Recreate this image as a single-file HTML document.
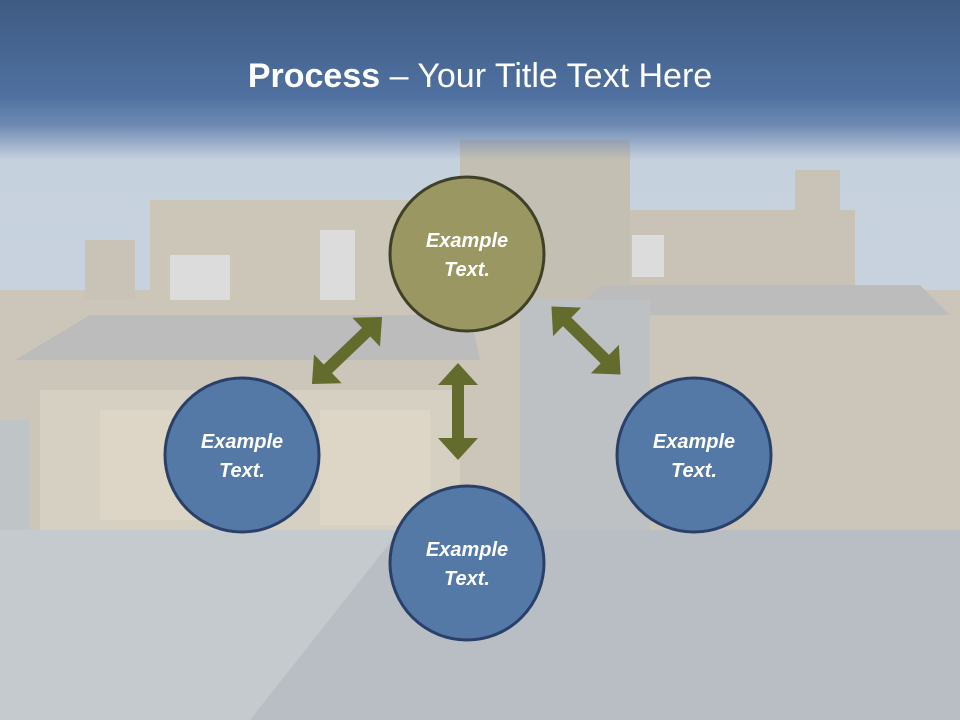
<!DOCTYPE html>
<html><head><meta charset="utf-8"><style>
body{margin:0;width:960px;height:720px;overflow:hidden;font-family:"Liberation Sans",sans-serif}
</style></head><body>
<svg width="960" height="720" xmlns="http://www.w3.org/2000/svg">
<defs>
<linearGradient id="hdr" x1="0" y1="0" x2="0" y2="1">
<stop offset="0" stop-color="#3e5b82"/><stop offset="0.6" stop-color="#4f70a0"/><stop offset="0.78" stop-color="#6d89b2"/><stop offset="1" stop-color="#6d89b2" stop-opacity="0"/>
</linearGradient>
<linearGradient id="sky" x1="0" y1="0" x2="0" y2="1">
<stop offset="0" stop-color="#c3cfdd"/><stop offset="1" stop-color="#d0d8e2"/>
</linearGradient>
<path id="dar" d="M-48.5,0L-26.5,-20L-26.5,-6L26.5,-6L26.5,-20L48.5,0L26.5,20L26.5,6L-26.5,6L-26.5,20Z" fill="#636b2d"/>
</defs>
<rect width="960" height="720" fill="url(#sky)"/>
<rect x="0" y="290" width="960" height="240" fill="#cbc6b9"/>
<rect x="150" y="200" width="470" height="110" fill="#cbc6b8"/>
<rect x="600" y="210" width="255" height="90" fill="#c8c3b6"/>
<rect x="460" y="140" width="170" height="170" fill="#c4bfb3"/>
<rect x="795" y="170" width="45" height="45" fill="#c8c3b6"/>
<rect x="85" y="240" width="50" height="60" fill="#c8c3b6"/>
<polygon points="15,360 90,315 470,315 480,360" fill="#bcbcbc"/>
<polygon points="570,315 600,285 920,285 950,315" fill="#bcbcbc"/>
<rect x="520" y="300" width="130" height="240" fill="#bdc1c4"/>
<rect x="40" y="390" width="420" height="140" fill="#d6d0c2"/>
<rect x="100" y="410" width="170" height="110" fill="#ddd6c6"/>
<rect x="320" y="410" width="110" height="115" fill="#ddd6c6"/>
<rect x="170" y="255" width="60" height="45" fill="#dcdcdc"/>
<rect x="320" y="230" width="35" height="70" fill="#dcdcdc"/>
<rect x="632" y="235" width="32" height="42" fill="#dcdcdc"/>
<rect x="0" y="530" width="960" height="190" fill="#b8bec4"/>
<polygon points="0,530 400,530 250,720 0,720" fill="#c5cace"/>
<rect x="0" y="420" width="30" height="110" fill="#bfc4c6"/>
<rect x="0" y="0" width="960" height="160" fill="url(#hdr)"/>
<text x="480" y="87" text-anchor="middle" font-family="Liberation Sans, sans-serif" font-size="34" fill="#fff"><tspan font-weight="bold">Process</tspan> – Your Title Text Here</text>
<use href="#dar" transform="translate(347,350.5) rotate(-43.7)"/>
<use href="#dar" transform="translate(458,411.5) rotate(90)"/>
<use href="#dar" transform="translate(586,340.5) rotate(44.6)"/>
<g stroke-width="3" font-family="Liberation Sans, sans-serif" font-size="20" font-weight="bold" font-style="italic" fill="#fff" text-anchor="middle">
<circle cx="467" cy="254" r="77" fill="#9a9762" stroke="#3f4028"/>
<circle cx="242" cy="455" r="77" fill="#5479a6" stroke="#2a4068"/>
<circle cx="694" cy="455" r="77" fill="#5479a6" stroke="#2a4068"/>
<circle cx="467" cy="563" r="77" fill="#5479a6" stroke="#2a4068"/>
<g stroke="none" fill="#fff">
<text x="467" y="247">Example</text><text x="467" y="276">Text.</text>
<text x="242" y="448">Example</text><text x="242" y="477">Text.</text>
<text x="694" y="448">Example</text><text x="694" y="477">Text.</text>
<text x="467" y="556">Example</text><text x="467" y="585">Text.</text>
</g></g>
</svg>
</body></html>
